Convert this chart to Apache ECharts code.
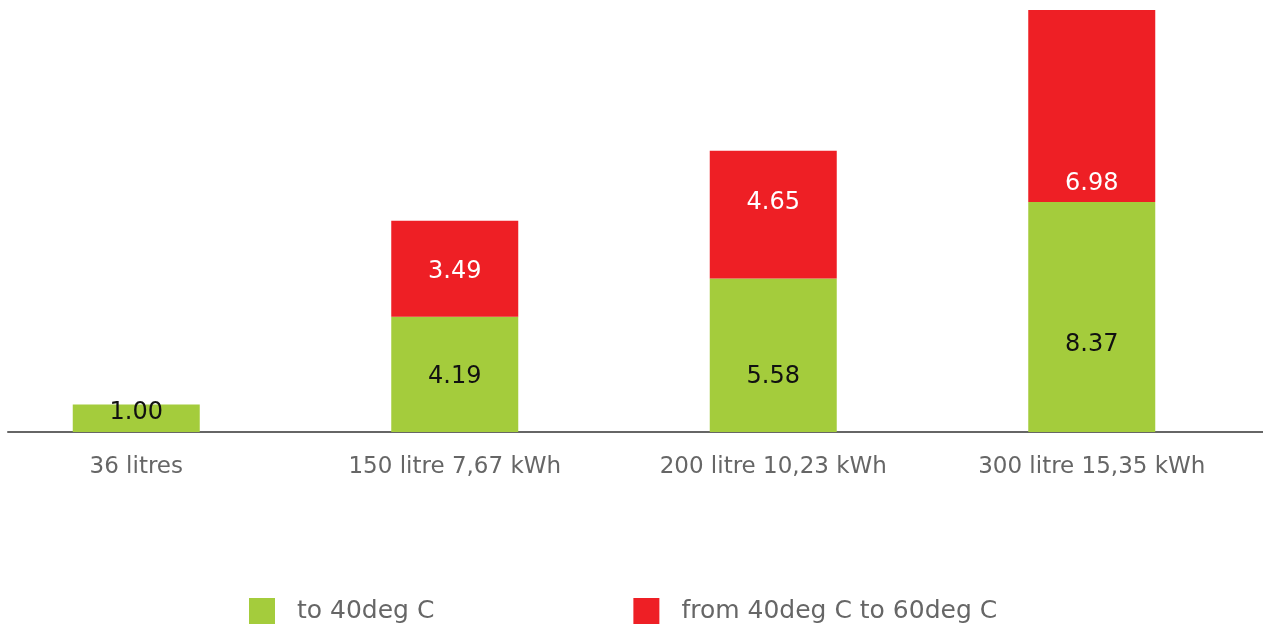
<!DOCTYPE html>
<html>
<head>
<meta charset="utf-8">
<script src="https://cdn.jsdelivr.net/npm/echarts@6/dist/echarts.min.js"></script>
<style>
  html, body { margin: 0; padding: 0; background: #ffffff; }
  #chart { width: 1263px; height: 627px; }
</style>
</head>
<body>
<div id="chart"></div>
<script>
// Water heater energy use, stacked per tank size
const categories = ['36 litres', '150 litre 7,67 kWh', '200 litre 10,23 kWh', '300 litre 15,35 kWh'];
const seriesNames = ['to 40deg C', 'from 40deg C to 60deg C'];
const to40 = [1.00, 4.19, 5.58, 8.37];
const from40to60 = [null, 3.49, 4.65, 6.98];

// vertical nudges (px) for the value labels inside each segment
const labelNudge = {
  green: [-5, 2, 21, 28],
  red: [3, 3, -12, 78]
};

const GREEN = '#a4cc3c';
const RED = '#ee1f25';
const FONT = 'DejaVu Sans';

function buildData(values, nudges) {
  return values.map((v, i) => ({
    value: v,
    label: { offset: [0, nudges[i]] }
  }));
}

const chart = echarts.init(document.getElementById('chart'), null, { renderer: 'canvas' });

chart.setOption({
  animation: false,
  backgroundColor: '#ffffff',
  grid: [
    { left: -23, right: 12, top: 10, bottom: 195, containLabel: false, outerBoundsMode: 'none' },
    { left: 8, right: 0, top: 10, bottom: 195, containLabel: false, outerBoundsMode: 'none' }
  ],
  legend: {
    left: 249,
    top: 598,
    padding: 0,
    itemWidth: 26,
    itemHeight: 26,
    itemGap: 199,
    icon: 'rect',
    data: seriesNames,
    textStyle: {
      fontFamily: FONT,
      fontSize: 25,
      color: '#666666',
      padding: [4, 0, 0, 17]
    }
  },
  xAxis: [
    {
      type: 'category',
      gridIndex: 0,
      data: categories,
      axisLine: { show: false },
      axisTick: { show: false },
      axisLabel: {
        margin: 24,
        fontFamily: FONT,
        fontSize: 23,
        color: '#666666'
      }
    },
    {
      type: 'value',
      gridIndex: 1,
      min: 0,
      max: 1,
      axisLine: { show: true, lineStyle: { color: '#666666', width: 2 } },
      axisTick: { show: false },
      axisLabel: { show: false },
      splitLine: { show: false }
    }
  ],
  yAxis: [
    { type: 'value', gridIndex: 0, min: 0, max: 15.35, show: false },
    { type: 'value', gridIndex: 1, min: 0, max: 1, show: false }
  ],
  series: [
    {
      name: seriesNames[0],
      type: 'bar',
      stack: 'total',
      barWidth: 127,
      itemStyle: { color: GREEN },
      label: {
        show: true,
        position: 'inside',
        fontFamily: FONT,
        fontSize: 24,
        color: '#111111',
        formatter: p => p.value.toFixed(2)
      },
      data: buildData(to40, labelNudge.green)
    },
    {
      name: seriesNames[1],
      type: 'bar',
      stack: 'total',
      barWidth: 127,
      itemStyle: { color: RED },
      label: {
        show: true,
        position: 'inside',
        fontFamily: FONT,
        fontSize: 24,
        color: '#ffffff',
        formatter: p => (p.value == null ? '' : p.value.toFixed(2))
      },
      data: buildData(from40to60, labelNudge.red)
    }
  ]
});
</script>
</body>
</html>
